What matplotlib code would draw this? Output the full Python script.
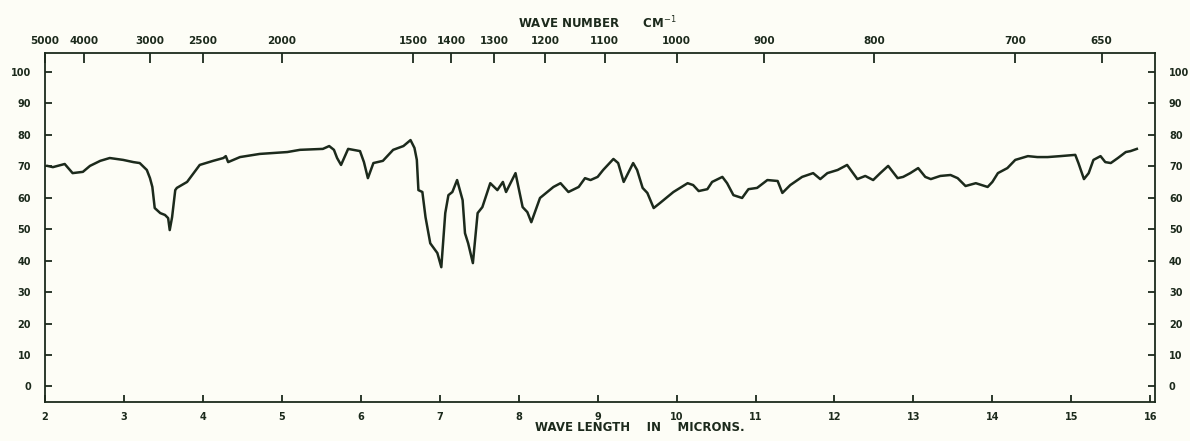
import matplotlib.pyplot as plt
import numpy as np

wavelength = [2.03, 2.10, 2.25, 2.35, 2.48, 2.57, 2.70, 2.82, 2.99, 3.12, 3.20, 3.29,
              3.33, 3.36, 3.39, 3.46, 3.52, 3.56, 3.58, 3.61, 3.65, 3.67, 3.80, 3.96,
              4.13, 4.26, 4.29, 4.32, 4.47, 4.72, 5.07, 5.23, 5.52, 5.60, 5.66, 5.70,
              5.75, 5.84, 5.99, 6.04, 6.09, 6.16, 6.28, 6.41, 6.54, 6.63, 6.68, 6.71,
              6.73, 6.78, 6.82, 6.88, 6.97, 7.02, 7.07, 7.11, 7.16, 7.22, 7.29, 7.32,
              7.36, 7.42, 7.48, 7.54, 7.64, 7.73, 7.80, 7.84, 7.96, 8.05, 8.11, 8.16,
              8.27, 8.44, 8.53, 8.63, 8.76, 8.84, 8.91, 9.00, 9.07, 9.20, 9.26, 9.33,
              9.45, 9.50, 9.57, 9.63, 9.71, 9.79, 9.96, 10.14, 10.21, 10.28, 10.39, 10.45,
              10.58, 10.64, 10.72, 10.83, 10.91, 11.02, 11.15, 11.28, 11.34, 11.44, 11.59, 11.73,
              11.82, 11.91, 12.04, 12.16, 12.29, 12.39, 12.49, 12.58, 12.68, 12.80, 12.87, 12.96,
              13.06, 13.15, 13.22, 13.34, 13.47, 13.56, 13.66, 13.79, 13.94, 14.00, 14.07, 14.19,
              14.29, 14.45, 14.57, 14.70, 14.86, 15.05, 15.09, 15.16, 15.22, 15.28, 15.37, 15.43,
              15.50, 15.59, 15.69, 15.75, 15.83]
transmittance = [70.1, 69.7, 70.7, 67.8, 68.2, 70.1, 71.7, 72.6, 72.0, 71.3, 71.0, 68.8,
                 66.2, 63.4, 56.7, 55.1, 54.5, 53.5, 49.7, 53.8, 62.4, 63.1, 65.0, 70.4,
                 71.7, 72.6, 73.2, 71.3, 72.9, 73.9, 74.5, 75.2, 75.5, 76.4, 75.2, 72.6,
                 70.4, 75.5, 74.8, 71.3, 66.2, 71.0, 71.7, 75.2, 76.4, 78.3, 75.8, 72.0,
                 62.4, 61.8, 53.8, 45.5, 42.4, 37.9, 55.1, 60.8, 61.8, 65.6, 59.2, 48.7,
                 45.5, 39.2, 55.1, 57.0, 64.6, 62.4, 65.0, 61.8, 67.8, 57.0, 55.4, 52.2,
                 59.9, 63.4, 64.6, 61.8, 63.4, 66.2, 65.6, 66.6, 68.8, 72.3, 71.0, 65.0,
                 71.0, 68.8, 63.1, 61.5, 56.7, 58.3, 61.8, 64.6, 64.0, 62.1, 62.7, 65.0,
                 66.6, 64.6, 60.8, 59.9, 62.7, 63.1, 65.6, 65.3, 61.5, 64.0, 66.6, 67.8,
                 65.9, 67.8, 68.8, 70.4, 65.9, 66.9, 65.6, 67.8, 70.1, 66.2, 66.6, 67.8,
                 69.4, 66.6, 65.9, 66.9, 67.2, 66.2, 63.7, 64.6, 63.4, 65.0, 67.8, 69.4,
                 72.0, 73.2, 72.9, 72.9, 73.2, 73.6, 71.0, 65.9, 67.8, 72.0, 73.2, 71.3,
                 71.0, 72.6, 74.5, 74.8, 75.5]

micron_ticks = list(range(2, 17))
wavenumber_ticks = [5000, 4000, 3000, 2500, 2000, 1500, 1400, 1300, 1200, 1100, 1000, 900, 800, 700, 650]
percent_ticks = list(range(0, 101, 10))

ink = '#1c2a1c'
paper = '#fdfdf6'

fig = plt.figure(figsize=(11.9, 4.41), dpi=100, facecolor=paper)
ax = fig.add_axes([0.0378, 0.088, 0.9328, 0.792], facecolor=paper)
ax.plot(wavelength, transmittance, color=ink, lw=1.8, solid_joinstyle='round')

ax.set_xlim(2, 16.06)
ax.set_ylim(-5, 106)
for s in ax.spines.values():
    s.set_color(ink)
    s.set_linewidth(1.3)

ax.set_xticks(micron_ticks)
ax.set_xticklabels([str(t) for t in micron_ticks])
ax.set_yticks(percent_ticks)
ax.set_yticklabels([str(t) for t in percent_ticks])
ax.tick_params(axis='both', direction='in', length=5, width=1.3, color=ink,
               labelsize=7, labelcolor=ink, right=True, labelright=True)
ax.tick_params(axis='x', pad=7)
ax.tick_params(axis='y', pad=10)
for lab in ax.get_xticklabels() + ax.get_yticklabels():
    lab.set_fontweight('bold')

top = ax.twiny()
top.set_xlim(ax.get_xlim())
top.set_xticks([1e4 / w for w in wavenumber_ticks])
top.set_xticklabels([str(w) for w in wavenumber_ticks], fontweight='bold')
top.tick_params(axis='x', direction='in', length=7, width=1.3, color=ink,
                labelsize=7.5, labelcolor=ink, pad=5)
for s in top.spines.values():
    s.set_visible(False)

fig.text(0.538, 0.016, 'WAVE LENGTH    IN    MICRONS.', ha='center', va='bottom',
         fontsize=8.5, fontweight='bold', color=ink)
fig.text(0.502, 0.948, 'WAVE NUMBER      CM$^{-1}$', ha='center', va='center',
         fontsize=8.5, fontweight='bold', color=ink)

fig.savefig('out.png', dpi=100, facecolor=paper)
